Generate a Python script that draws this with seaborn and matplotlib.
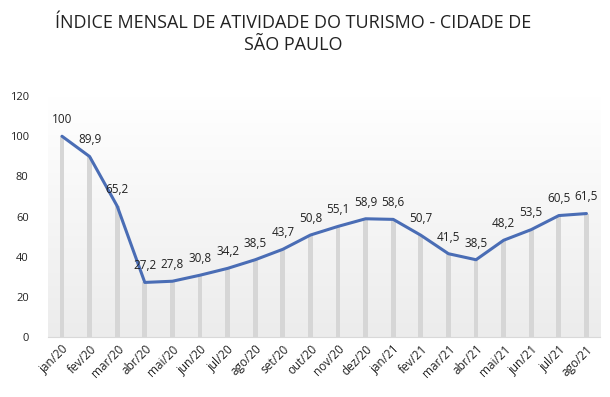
import numpy as np
import pandas as pd
import matplotlib.pyplot as plt
import seaborn as sns

months = ["jan/20", "fev/20", "mar/20", "abr/20", "mai/20", "jun/20", "jul/20",
          "ago/20", "set/20", "out/20", "nov/20", "dez/20", "jan/21", "fev/21",
          "mar/21", "abr/21", "mai/21", "jun/21", "jul/21", "ago/21"]
indice = [100, 89.9, 65.2, 27.2, 27.8, 30.8, 34.2, 38.5, 43.7, 50.8, 55.1,
          58.9, 58.6, 50.7, 41.5, 38.5, 48.2, 53.5, 60.5, 61.5]
yticks = [0, 20, 40, 60, 80, 100, 120]

df = pd.DataFrame({"mes": months, "indice": indice})

sns.set_style("white")
plt.rcParams["font.family"] = ["Open Sans", "DejaVu Sans"]

fig = plt.figure(figsize=(6.1, 3.97), dpi=100)
ax = fig.add_axes([0.079, 0.151, 0.905, 0.607])

# fundo em degradê (branco -> cinza claro)
grad = np.linspace(0, 1, 100).reshape(-1, 1)
ax.imshow(grad, extent=[-0.5, len(months) - 0.5, 0, 120], aspect="auto",
          cmap=plt.matplotlib.colors.LinearSegmentedColormap.from_list(
              "g", ["#ececec", "#ffffff"]), origin="lower", zorder=0)

sns.barplot(data=df, x="mes", y="indice", color="#d6d6d6", width=0.17,
            saturation=1, linewidth=0, ax=ax, zorder=1)
ax.plot(range(len(months)), indice, color="#4a6db5", lw=2.2, zorder=3,
        solid_capstyle="round")

for i, v in enumerate(indice):
    txt = f"{v:g}".replace(".", ",")
    ax.annotate(txt, (i, v), xytext=(0, 12), textcoords="offset points",
                ha="center", va="center", fontsize=8.5, color="#222222")

ax.set_xlim(-0.5, len(months) - 0.5)
ax.set_ylim(0, 120)
ax.set_yticks(yticks)
ax.set_yticklabels([str(t) for t in yticks], fontsize=8, color="#222222")
ax.set_xticks(range(len(months)))
ax.set_xticklabels(months, rotation=45, ha="right", rotation_mode="anchor",
                   fontsize=8.5, color="#222222")
ax.tick_params(axis="both", length=0, pad=4)
ax.tick_params(axis="y", pad=14)
ax.set_xlabel("")
ax.set_ylabel("")
for s in ["top", "right", "left"]:
    ax.spines[s].set_visible(False)
ax.spines["bottom"].set_color("#d9d9d9")

fig.text(0.48, 0.915, "ÍNDICE MENSAL DE ATIVIDADE DO TURISMO - CIDADE DE\nSÃO PAULO",
         ha="center", va="center", fontsize=13, color="#222222",
         linespacing=1.3)

fig.savefig("out.png", dpi=100)
